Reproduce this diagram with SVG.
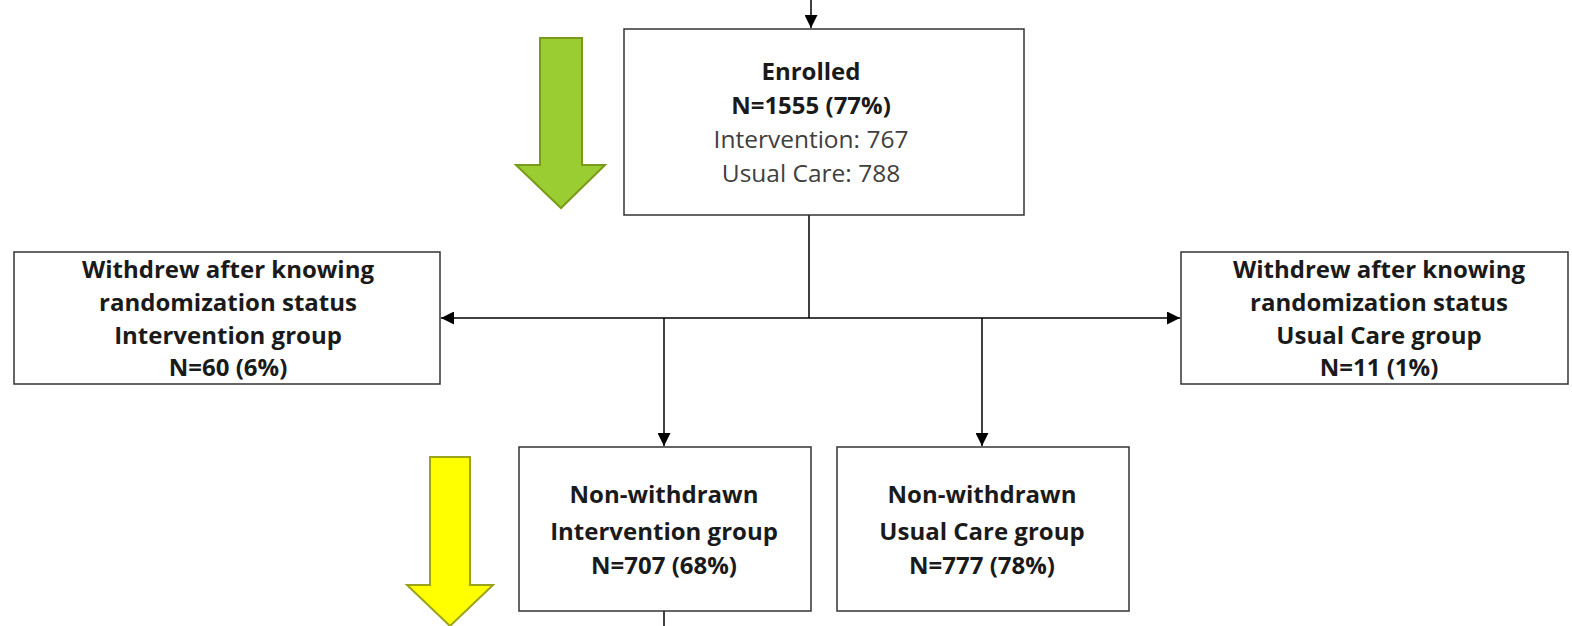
<svg xmlns="http://www.w3.org/2000/svg" width="1572" height="626" viewBox="0 0 1572 626">
<defs>
<style>
.box{fill:#fff;stroke:#333;stroke-width:1.5}
.t{font-family:"Open Sans","Liberation Sans",sans-serif;text-anchor:middle;fill:#1a1a1a}
.b{font-weight:bold;font-size:24px}
.r{font-size:24.5px;fill:#404040}
.ln{stroke:#000;stroke-width:1.5;fill:none}
</style>
<marker id="ah2" viewBox="0 0 10 10" refX="10" refY="5" markerWidth="15" markerHeight="13" markerUnits="userSpaceOnUse" orient="auto"><path d="M0,0 L10,5 L0,10 z" fill="#000"/></marker>
</defs>
<rect width="1572" height="626" fill="#fff"/>
<path d="M540,38 L582,38 L582,165 L605,165 L561,208 L516,165 L540,165 Z" fill="#9acd32" stroke="#7a9a1a" stroke-width="2"/>
<path d="M430,457 L470,457 L470,585 L493,585 L450,626 L407,585 L430,585 Z" fill="#ffff00" stroke="#9aa31a" stroke-width="2"/>
<g id="connectors">
<line class="ln" x1="811" y1="0" x2="811" y2="28" marker-end="url(#ah2)"/>
<line class="ln" x1="809" y1="215" x2="809" y2="318"/>
<line class="ln" x1="809" y1="318" x2="441" y2="318" marker-end="url(#ah2)"/>
<line class="ln" x1="809" y1="318" x2="1180" y2="318" marker-end="url(#ah2)"/>
<line class="ln" x1="664" y1="318" x2="664" y2="446" marker-end="url(#ah2)"/>
<line class="ln" x1="982" y1="318" x2="982" y2="446" marker-end="url(#ah2)"/>
<line class="ln" x1="664" y1="611" x2="664" y2="626"/>
</g>
<g id="enrolled">
<rect class="box" x="624" y="29" width="400" height="186"/>
<text class="t b" x="811" y="80">Enrolled</text>
<text class="t b" x="811" y="114">N=1555 (77%)</text>
<text class="t r" x="811" y="148">Intervention: 767</text>
<text class="t r" x="811" y="182">Usual Care: 788</text>
</g>
<g id="withdrew-int">
<rect class="box" x="14" y="252" width="426" height="132"/>
<text class="t b" x="228" y="278">Withdrew after knowing</text>
<text class="t b" x="228" y="311">randomization status</text>
<text class="t b" x="228" y="344">Intervention group</text>
<text class="t b" x="228" y="376">N=60 (6%)</text>
</g>
<g id="withdrew-uc">
<rect class="box" x="1181" y="252" width="387" height="132"/>
<text class="t b" x="1379" y="278">Withdrew after knowing</text>
<text class="t b" x="1379" y="311">randomization status</text>
<text class="t b" x="1379" y="344">Usual Care group</text>
<text class="t b" x="1379" y="376">N=11 (1%)</text>
</g>
<g id="nonwd-int">
<rect class="box" x="519" y="447" width="292" height="164"/>
<text class="t b" x="664" y="503">Non-withdrawn</text>
<text class="t b" x="664" y="540">Intervention group</text>
<text class="t b" x="664" y="574">N=707 (68%)</text>
</g>
<g id="nonwd-uc">
<rect class="box" x="837" y="447" width="292" height="164"/>
<text class="t b" x="982" y="503">Non-withdrawn</text>
<text class="t b" x="982" y="540">Usual Care group</text>
<text class="t b" x="982" y="574">N=777 (78%)</text>
</g>
</svg>
